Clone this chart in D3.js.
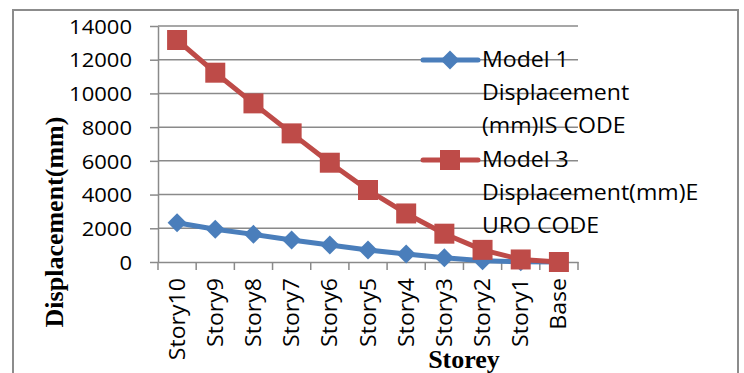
<!DOCTYPE html>
<html>
<head>
<meta charset="utf-8">
<script src="https://cdn.jsdelivr.net/npm/d3@7"></script>
<style>
  html, body { margin: 0; padding: 0; background: #fff; overflow: hidden; }
</style>
</head>
<body>
<svg id="chart" width="744" height="373"></svg>
<script>
// Storey drift data (mm), top storey first
const categories = ["Story10", "Story9", "Story8", "Story7", "Story6", "Story5",
                    "Story4", "Story3", "Story2", "Story1", "Base"];
const model1IsCode   = [2330, 1940, 1640, 1300, 1010, 710, 470, 250, 70, 10, 0];
const model3EuroCode = [13170, 11230, 9410, 7630, 5890, 4270, 2880, 1680, 720, 150, 0];
const yTicks = [0, 2000, 4000, 6000, 8000, 10000, 12000, 14000];
const legendModel1 = ["Model 1", "Displacement", "(mm)IS CODE"];
const legendModel3 = ["Model 3", "Displacement(mm)E", "URO CODE"];
const yTitle = "Displacement(mm)";
const xTitle = "Storey";

const svg = d3.select("#chart");
const SANS = "'Open Sans', 'DejaVu Sans', sans-serif";
const SERIF = "'Liberation Serif', 'Times New Roman', serif";
const SX = 1.1;               // horizontal widening of the sans labels
const gridColor = "#8a8a8a";
const blue = "#4A7EBB", red = "#BE4B48";

const plot = { left: 158, right: 578, top: 26, bottom: 262 };

// outer frame
svg.append("rect")
  .attr("x", 13).attr("y", 10).attr("width", 725).attr("height", 390)
  .attr("fill", "none").attr("stroke", "#8c8c8c").attr("stroke-width", 2);

const x = d3.scaleBand().domain(categories).range([plot.left, plot.right]).padding(0);
const y = d3.scaleLinear().domain([0, 14000]).range([plot.bottom, plot.top]);
const cx = d => x(d) + x.bandwidth() / 2;

// horizontal gridlines
svg.append("g").selectAll("line")
  .data(yTicks.filter(v => v > 0))
  .join("line")
  .attr("x1", plot.left).attr("x2", plot.right)
  .attr("y1", d => y(d)).attr("y2", d => y(d))
  .attr("stroke", gridColor).attr("stroke-width", 1.5);

// y axis
const yAxis = svg.append("g")
  .attr("transform", `translate(${plot.left},0)`)
  .call(d3.axisLeft(y).tickValues(yTicks).tickSize(8).tickSizeOuter(0).tickFormat(d3.format("d")));
yAxis.select(".domain").attr("stroke", gridColor).attr("stroke-width", 1.5);
yAxis.selectAll(".tick line").attr("stroke", gridColor).attr("stroke-width", 1.5);
yAxis.attr("font-family", SANS).attr("font-size", 20).attr("text-anchor", "end");
yAxis.selectAll(".tick text")
  .attr("fill", "#000")
  .attr("x", -26 / SX)
  .attr("dy", "0.36em")
  .attr("transform", `scale(${SX},1)`);

// x axis with category labels
const xAxis = svg.append("g")
  .attr("transform", `translate(0,${plot.bottom})`)
  .call(d3.axisBottom(x).tickSize(0).tickSizeOuter(0));
xAxis.select(".domain").attr("stroke", gridColor).attr("stroke-width", 1.5);
xAxis.attr("font-family", SANS).attr("font-size", 21);
xAxis.selectAll(".tick text")
  .attr("fill", "#000")
  .attr("text-anchor", "end")
  .attr("x", -16 / SX)
  .attr("y", 0)
  .attr("dy", "0.36em")
  .attr("transform", `rotate(-90) scale(${SX},1)`);

// tick marks between categories
xAxis.append("g").selectAll("line")
  .data(categories.map(c => x(c)).concat([plot.right]))
  .join("line")
  .attr("x1", d => d).attr("x2", d => d)
  .attr("y1", 0).attr("y2", 8)
  .attr("stroke", gridColor).attr("stroke-width", 1.5);

// series
const series = [
  { values: model1IsCode, color: blue, marker: "diamond", legend: legendModel1, ly: 60 },
  { values: model3EuroCode, color: red, marker: "square", legend: legendModel3, ly: 160 }
];

const line = d3.line().x(d => cx(d.cat)).y(d => y(d.v));
const diamond = d3.symbol(d3.symbolSquare, 180);
const square = d3.symbol(d3.symbolSquare, 400);

function drawMarker(g, s, px, py) {
  if (s.marker === "diamond") {
    g.append("path").attr("d", diamond())
      .attr("transform", `translate(${px},${py}) rotate(45)`)
      .attr("fill", s.color);
  } else {
    g.append("path").attr("d", square())
      .attr("transform", `translate(${px},${py})`)
      .attr("fill", s.color);
  }
}

series.forEach(s => {
  const pts = categories.map((c, i) => ({ cat: c, v: s.values[i] }));
  const g = svg.append("g");
  g.append("path").datum(pts)
    .attr("d", line)
    .attr("fill", "none").attr("stroke", s.color)
    .attr("stroke-width", 5).attr("stroke-linejoin", "round").attr("stroke-linecap", "round");
  pts.forEach(p => drawMarker(g, s, cx(p.cat), y(p.v)));
});

// legend
series.forEach(s => {
  const g = svg.append("g");
  g.append("line").attr("x1", 423).attr("x2", 478).attr("y1", s.ly).attr("y2", s.ly)
    .attr("stroke", s.color).attr("stroke-width", 5).attr("stroke-linecap", "round");
  drawMarker(g, s, 450, s.ly);
  s.legend.forEach((t, i) => {
    g.append("text")
      .attr("transform", `translate(482,${s.ly + 7 + i * 33}) scale(${SX},1)`)
      .attr("font-family", SANS).attr("font-size", 21).attr("fill", "#000")
      .text(t);
  });
});

// axis titles
svg.append("text")
  .attr("transform", `translate(63,222) rotate(-90)`)
  .attr("text-anchor", "middle")
  .attr("font-family", SERIF).attr("font-weight", "bold").attr("font-size", 26)
  .attr("fill", "#000")
  .text(yTitle);

svg.append("text")
  .attr("x", 464).attr("y", 368)
  .attr("text-anchor", "middle")
  .attr("font-family", SERIF).attr("font-weight", "bold").attr("font-size", 26)
  .attr("fill", "#000")
  .text(xTitle);
</script>
</body>
</html>
